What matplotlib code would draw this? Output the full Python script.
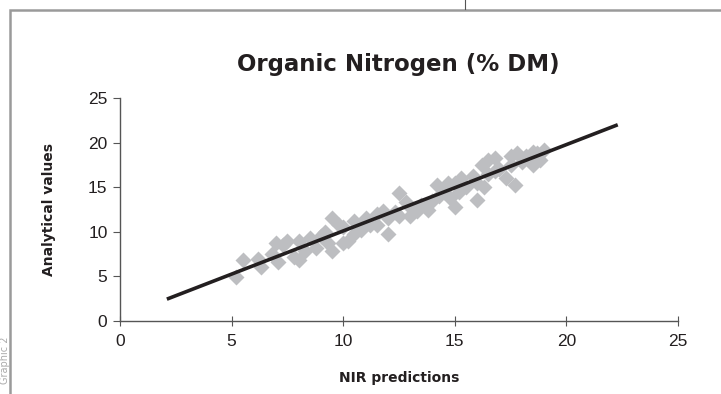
import matplotlib
matplotlib.use("Agg")
import matplotlib.pyplot as plt
from matplotlib.patches import Rectangle
from matplotlib.lines import Line2D

# NIR predicted vs analytical organic nitrogen (% DM)
nir_pred = [5.2, 5.5, 6.2, 6.3, 6.8, 7.0, 7.1, 7.3, 7.5, 7.8, 8.0, 8.0, 8.3, 8.5,
            8.8, 9.0, 9.2, 9.3, 9.5, 9.5, 9.8, 10.0, 10.0, 10.2, 10.5, 10.5, 10.8,
            11.0, 11.2, 11.5, 11.5, 11.8, 12.0, 12.0, 12.3, 12.5, 12.5, 12.8, 13.0,
            13.0, 13.3, 13.5, 13.8, 14.0, 14.2, 14.3, 14.5, 14.7, 14.8, 15.0, 15.0,
            15.2, 15.3, 15.5, 15.8, 16.0, 16.0, 16.2, 16.3, 16.5, 16.5, 16.8, 16.8,
            17.0, 17.3, 17.5, 17.5, 17.7, 17.8, 18.0, 18.2, 18.5, 18.5, 18.8, 19.0,
            18.7]
analytical = [4.9, 6.8, 7.0, 6.0, 7.5, 8.8, 6.6, 8.5, 9.0, 7.2, 6.8, 9.0, 7.8, 9.3,
              8.2, 9.5, 10.0, 8.8, 11.5, 7.8, 10.8, 8.8, 10.5, 9.0, 11.2, 9.8, 10.2,
              11.5, 10.8, 12.0, 10.8, 12.3, 11.5, 9.8, 12.2, 14.4, 11.8, 13.3, 12.8,
              11.8, 12.3, 13.0, 12.5, 13.5, 15.3, 14.0, 14.5, 15.5, 13.8, 12.8, 15.5,
              14.5, 16.0, 15.0, 16.3, 13.6, 15.5, 17.5, 15.0, 16.5, 18.0, 18.3, 16.8,
              17.0, 16.0, 18.5, 17.5, 15.3, 18.8, 17.8, 18.5, 19.0, 17.5, 18.0, 19.2,
              18.8]

# regression line end points
fit_x = [2.1, 22.3]
fit_y = [2.45, 22.0]

ticks = [0, 5, 10, 15, 20, 25]

fig = plt.figure(figsize=(7.21, 3.94), dpi=100)
ax = fig.add_axes([120 / 721, 1 - 321 / 394, 558 / 721, 223 / 394])

ax.plot(nir_pred, analytical, linestyle="none", marker="D", ms=8,
        color="#bdbec1", mec="none", zorder=2)
ax.plot(fit_x, fit_y, color="#231f20", lw=2.6, solid_capstyle="butt", zorder=3)

ax.set_xlim(0, 25)
ax.set_ylim(0, 25)
ax.set_xticks(ticks)
ax.set_yticks(ticks)
for s in ["top", "right"]:
    ax.spines[s].set_visible(False)
for s in ["left", "bottom"]:
    ax.spines[s].set_color("#555555")
    ax.spines[s].set_linewidth(1.0)
ax.tick_params(axis="x", direction="inout", length=7, color="#555555", pad=6)
ax.tick_params(axis="y", direction="out", length=5, color="#555555", pad=4)
for lab in ax.get_xticklabels() + ax.get_yticklabels():
    lab.set_fontfamily("Liberation Sans")
    lab.set_fontsize(12.5)
    lab.set_color("#231f20")

ax.set_xlabel("NIR predictions", fontsize=10, fontweight="bold", color="#231f20",
              labelpad=16)
ax.set_ylabel("Analytical values", fontsize=10, fontweight="bold", color="#231f20",
              labelpad=23)
fig.text(398 / 721, 1 - 65 / 394, "Organic Nitrogen (% DM)", fontsize=16.5,
         fontweight="bold", color="#231f20", ha="center", va="center")

# page frame around the chart
fig.patches.append(Rectangle((10 / 721, -0.1), 1.1, 1 - 10 / 394 + 0.1,
                             transform=fig.transFigure, fill=False,
                             edgecolor="#9a9a9a", lw=1.8))
fig.lines.append(Line2D([465 / 721, 465 / 721], [1 - 9 / 394, 1.0],
                        transform=fig.transFigure, color="#555555", lw=0.8))
fig.text(5 / 721, 1 - 360 / 394, "Graphic 2", rotation=90, fontsize=7,
         color="#aaaaaa", ha="center", va="center")

fig.savefig("out.png", dpi=100)
